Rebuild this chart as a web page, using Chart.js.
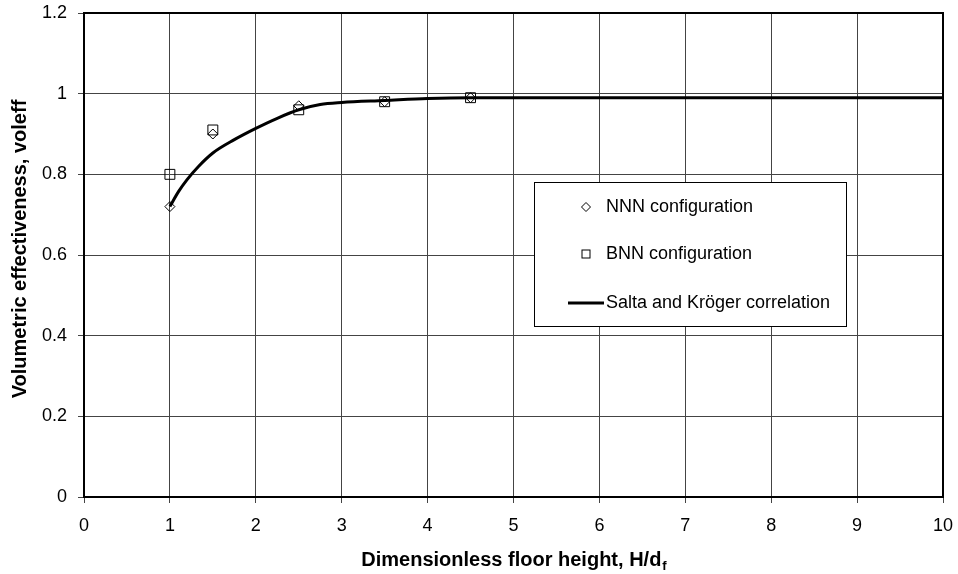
<!DOCTYPE html>
<html>
<head>
<meta charset="utf-8">
<script src="https://cdn.jsdelivr.net/npm/chart.js@4.4.0/dist/chart.umd.min.js"></script>
<style>
  html, body { margin: 0; padding: 0; background: #fff; }
</style>
</head>
<body>
<canvas id="chart" width="958" height="574"></canvas>
<script>
// Measured points (H/d_f vs volumetric effectiveness)
const xMeasured = [1, 1.5, 2.5, 3.5, 4.5]
const nnnValues = [0.72, 0.90, 0.97, 0.98, 0.99]
const bnnValues = [0.80, 0.91, 0.96, 0.98, 0.99]

// Salta and Kröger correlation
const xCurve = [1, 1.1, 1.2, 1.33, 1.5, 1.75, 2, 2.25, 2.5, 2.75, 3, 3.5, 4, 4.5, 5, 6, 7, 8, 9, 10]
const yCurve = [0.72, 0.757, 0.787, 0.819, 0.853, 0.886, 0.914, 0.939, 0.960, 0.973, 0.978, 0.983, 0.988, 0.990, 0.990, 0.990, 0.990, 0.990, 0.990, 0.990]

const xTickLabels = ['0', '1', '2', '3', '4', '5', '6', '7', '8', '9', '10']
const yTickLabels = ['0', '0.2', '0.4', '0.6', '0.8', '1', '1.2']

const seriesNames = ['NNN configuration', 'BNN configuration', 'Salta and Kröger correlation']
const xTitle = 'Dimensionless floor height, H/d'
const xTitleSub = 'f'
const yTitle = 'Volumetric effectiveness, voleff'

const FONT = '"Liberation Sans", Arial, sans-serif'
const toPoints = (xs, ys) => xs.map((x, i) => ({ x: x, y: ys[i] }))

// Plot frame drawn over the grid
const framePlugin = {
  id: 'frame',
  beforeDatasetsDraw(chart) {
    const { ctx, chartArea: a } = chart
    ctx.save()
    ctx.strokeStyle = '#000'
    ctx.lineWidth = 2
    ctx.strokeRect(a.left, a.top, a.right - a.left, a.bottom - a.top)
    ctx.restore()
  },
}

// Boxed legend inside the plot, like the original
const boxLegendPlugin = {
  id: 'boxLegend',
  afterDatasetsDraw(chart) {
    const ctx = chart.ctx
    const box = { x: 534, y: 182, w: 312, h: 144 }
    const rows = [207, 254, 303]
    const markX = 586
    const textX = 606
    ctx.save()
    ctx.fillStyle = '#fff'
    ctx.fillRect(box.x, box.y, box.w, box.h)
    ctx.strokeStyle = '#000'
    ctx.lineWidth = 1
    ctx.strokeRect(box.x + 0.5, box.y + 0.5, box.w, box.h)

    // diamond
    ctx.beginPath()
    ctx.moveTo(markX - 4.5, rows[0])
    ctx.lineTo(markX, rows[0] - 4.5)
    ctx.lineTo(markX + 4.5, rows[0])
    ctx.lineTo(markX, rows[0] + 4.5)
    ctx.closePath()
    ctx.stroke()
    // square
    ctx.strokeRect(markX - 4, rows[1] - 4, 8, 8)
    // line
    ctx.beginPath()
    ctx.lineWidth = 3
    ctx.moveTo(568, rows[2])
    ctx.lineTo(604, rows[2])
    ctx.stroke()

    ctx.fillStyle = '#000'
    ctx.font = '18px ' + FONT
    ctx.textBaseline = 'middle'
    ctx.textAlign = 'left'
    seriesNames.forEach((name, i) => ctx.fillText(name, textX, rows[i]))
    ctx.restore()
  },
}

// Axis titles (x title needs a subscript)
const titlesPlugin = {
  id: 'titles',
  afterDraw(chart) {
    const { ctx, chartArea: a } = chart
    ctx.save()
    ctx.fillStyle = '#000'
    ctx.textBaseline = 'alphabetic'
    ctx.textAlign = 'left'

    ctx.font = 'bold 20px ' + FONT
    const mainW = ctx.measureText(xTitle).width
    ctx.font = 'bold 13px ' + FONT
    const subW = ctx.measureText(xTitleSub).width
    const startX = (a.left + a.right) / 2 - (mainW + subW) / 2
    const baseY = 566
    ctx.font = 'bold 20px ' + FONT
    ctx.fillText(xTitle, startX, baseY)
    ctx.font = 'bold 13px ' + FONT
    ctx.fillText(xTitleSub, startX + mainW + 1, baseY + 4)

    ctx.translate(20, (a.top + a.bottom) / 2 - 6)
    ctx.rotate(-Math.PI / 2)
    ctx.font = 'bold 20px ' + FONT
    ctx.textAlign = 'center'
    ctx.textBaseline = 'middle'
    ctx.fillText(yTitle, 0, 0)
    ctx.restore()
  },
}

const gridColor = '#444'

new Chart(document.getElementById('chart'), {
  type: 'scatter',
  data: {
    datasets: [
      {
        label: seriesNames[2],
        data: toPoints(xCurve, yCurve),
        showLine: true,
        borderColor: '#000',
        borderWidth: 3,
        pointRadius: 0,
        cubicInterpolationMode: 'monotone',
        order: 3,
      },
      {
        label: seriesNames[0],
        data: toPoints(xMeasured, nnnValues),
        pointStyle: 'rectRot',
        pointRadius: 5,
        borderColor: '#000',
        backgroundColor: 'rgba(0,0,0,0)',
        borderWidth: 1,
        order: 1,
      },
      {
        label: seriesNames[1],
        data: toPoints(xMeasured, bnnValues),
        pointStyle: 'rect',
        pointRadius: 7,
        borderColor: '#000',
        backgroundColor: 'rgba(0,0,0,0)',
        borderWidth: 1,
        order: 2,
      },
    ],
  },
  options: {
    responsive: false,
    animation: false,
    events: [],
    layout: { padding: { top: 13, right: 15, left: 0, bottom: 0 } },
    plugins: {
      legend: { display: false },
      tooltip: { enabled: false },
    },
    scales: {
      x: {
        type: 'linear',
        min: 0,
        max: 10,
        afterFit(scale) {
          scale.height = 77
          scale.paddingLeft = 0
          scale.paddingRight = 0
        },
        ticks: {
          stepSize: 1,
          padding: 12,
          color: '#000',
          font: { family: FONT, size: 18 },
          callback: (v) => xTickLabels[Math.round(v)],
          maxRotation: 0,
        },
        grid: { color: gridColor, lineWidth: 1, tickLength: 6 },
        border: { display: false },
      },
      y: {
        type: 'linear',
        min: 0,
        max: 1.2,
        afterFit(scale) {
          scale.width = 84
          scale.paddingTop = 0
          scale.paddingBottom = 0
        },
        ticks: {
          stepSize: 0.2,
          padding: 11,
          color: '#000',
          font: { family: FONT, size: 18 },
          callback: (v) => yTickLabels[Math.round(v / 0.2)],
        },
        grid: { color: gridColor, lineWidth: 1, tickLength: 6 },
        border: { display: false },
      },
    },
  },
  plugins: [framePlugin, boxLegendPlugin, titlesPlugin],
})
</script>
</body>
</html>
